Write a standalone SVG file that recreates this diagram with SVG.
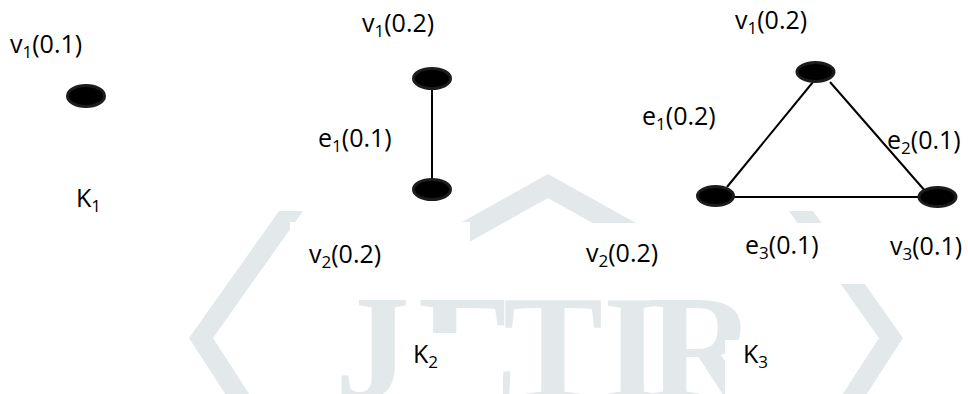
<svg xmlns="http://www.w3.org/2000/svg" width="968" height="394" viewBox="0 0 968 394">
  <style>
    .lbl { font-family: "Open Sans", "Liberation Sans", sans-serif; font-size: 25px; fill: #000; }
    .sub { font-size: 17px; }
    .vtx { fill: #000; stroke: #1c1c1c; stroke-width: 3; }
    .edge { stroke: #000; stroke-width: 2; fill: none; }
    .wm { fill: #e3e8eb; }
    .wm-stroke { fill: none; stroke: #e3e8eb; stroke-width: 21; stroke-linejoin: miter; }
    .wm-text { font-family: "Liberation Serif", "DejaVu Serif", serif; font-weight: bold; font-size: 150px; fill: #e3e8eb; }
    .cover { fill: #fff; }
  </style>

  <rect width="968" height="394" fill="#fff"/>

  <!-- faint background logo -->
  <g id="watermark">
    <polygon class="wm" points="279,211 189,338 233,406 257,406 213,338 303,211"/>
    <polygon class="wm" points="813,211 903,338 859,406 835,406 879,338 789,211"/>
    <polyline class="wm-stroke" points="428,253 548,186 668,253"/>
    <text class="wm-text" x="335 418 503 603 648" y="399">JETIR</text>
  </g>

  <!-- opaque label backgrounds -->
  <g id="label-backgrounds">
    <rect class="cover" x="290" y="222" width="180" height="62"/>
    <rect class="cover" x="556" y="223" width="324" height="61"/>
    <rect class="cover" x="403" y="333" width="100" height="61"/>
    <rect class="cover" x="725" y="340" width="85" height="54"/>
  </g>

  <!-- edges -->
  <g id="connectors">
    <line class="edge" x1="432" y1="89" x2="432" y2="180"/>
    <line class="edge" x1="813" y1="82" x2="727" y2="187"/>
    <line class="edge" x1="830" y1="82" x2="933" y2="200"/>
    <line class="edge" x1="733" y1="197" x2="920" y2="197"/>
  </g>

  <!-- edge labels -->
  <g id="edge-labels">
    <text class="lbl" x="318" y="147">e<tspan class="sub" dy="5">1</tspan><tspan dy="-5">(0.1)</tspan></text>
    <text class="lbl" x="642" y="125">e<tspan class="sub" dy="5">1</tspan><tspan dy="-5">(0.2)</tspan></text>
    <text class="lbl" x="887" y="149">e<tspan class="sub" dy="5">2</tspan><tspan dy="-5">(0.1)</tspan></text>
    <text class="lbl" x="745" y="254">e<tspan class="sub" dy="5">3</tspan><tspan dy="-5">(0.1)</tspan></text>
  </g>

  <!-- K1 -->
  <g id="k1-v1">
    <ellipse class="vtx" cx="86" cy="96" rx="18.5" ry="10.5"/>
    <text class="lbl" x="10" y="53">v<tspan class="sub" dy="5">1</tspan><tspan dy="-5">(0.1)</tspan></text>
  </g>
  <g id="k1-title">
    <text class="lbl" x="76" y="207">K<tspan class="sub" dy="5">1</tspan></text>
  </g>

  <!-- K2 -->
  <g id="k2-v1">
    <ellipse class="vtx" cx="432" cy="78.5" rx="18.5" ry="10"/>
    <text class="lbl" x="362" y="32">v<tspan class="sub" dy="5">1</tspan><tspan dy="-5">(0.2)</tspan></text>
  </g>
  <g id="k2-v2">
    <ellipse class="vtx" cx="432" cy="189.5" rx="18.5" ry="10"/>
    <text class="lbl" x="309" y="263">v<tspan class="sub" dy="5">2</tspan><tspan dy="-5">(0.2)</tspan></text>
  </g>
  <g id="k2-title">
    <text class="lbl" x="413" y="363">K<tspan class="sub" dy="5">2</tspan></text>
  </g>

  <!-- K3 -->
  <g id="k3-v1">
    <ellipse class="vtx" cx="815.5" cy="72" rx="18.5" ry="9.5"/>
    <text class="lbl" x="735" y="29">v<tspan class="sub" dy="5">1</tspan><tspan dy="-5">(0.2)</tspan></text>
  </g>
  <g id="k3-v2">
    <ellipse class="vtx" cx="715.5" cy="196" rx="18" ry="9.5"/>
    <text class="lbl" x="586" y="262">v<tspan class="sub" dy="5">2</tspan><tspan dy="-5">(0.2)</tspan></text>
  </g>
  <g id="k3-v3">
    <ellipse class="vtx" cx="937.5" cy="197" rx="18.5" ry="9.5"/>
    <text class="lbl" x="890" y="255">v<tspan class="sub" dy="5">3</tspan><tspan dy="-5">(0.1)</tspan></text>
  </g>
  <g id="k3-title">
    <text class="lbl" x="743" y="363">K<tspan class="sub" dy="5">3</tspan></text>
  </g>
</svg>
